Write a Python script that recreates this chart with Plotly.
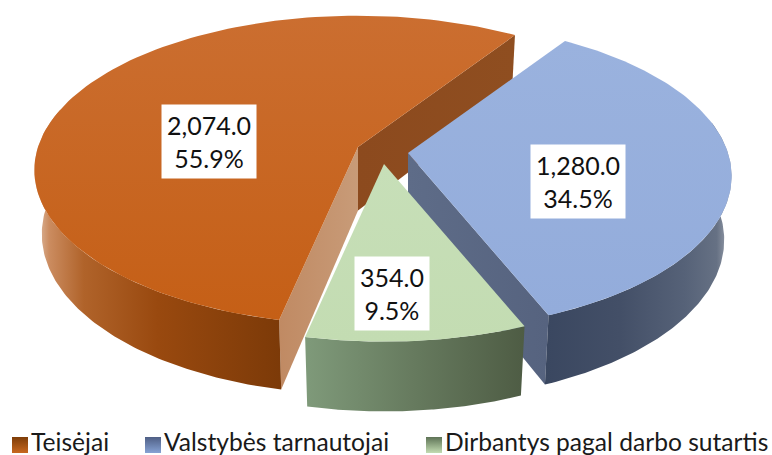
import numpy as np
import plotly.graph_objects as go

names = ["Teisėjai", "Valstybės tarnautojai", "Dirbantys pagal darbo sutartis"]
values = [2074.0, 1280.0, 354.0]
percent_labels = ["55.9%", "34.5%", "9.5%"]

W, H = 772, 455
A, B, K, DEPTH, SHRINK = 320, 151, 0.15, 65, 0.023
TIPS = [(358, 147), (408, 153), (384, 164)]
START_DEG = 56.5  # orange/blue boundary

sweep = [v / sum(values) * 360 for v in values]
spans = [
    (START_DEG, START_DEG + sweep[0]),
    (START_DEG - sweep[1], START_DEG),
    (START_DEG - sweep[1] - sweep[2], START_DEG - sweep[1]),
]


def project(tip, deg, r=1.0, h=0.0):
    t = np.radians(deg)
    u, v = r * np.cos(t), r * np.sin(t)
    w = 1 + K * v + SHRINK * h
    return tip[0] + A * u / w, tip[1] - B * v / w + DEPTH * h / w


def arc(tip, a, b, h=0.0, n=120):
    d = np.linspace(a, b, n)
    return project(tip, d, 1.0, h)


def radial_face(tip, deg):
    xs, ys = zip(project(tip, deg, 0, 0), project(tip, deg, 1, 0),
                 project(tip, deg, 1, 1), project(tip, deg, 0, 1))
    return list(xs), list(ys)


def wall(tip, a, b):
    x1, y1 = arc(tip, a, b)
    x2, y2 = arc(tip, b, a, 1)
    return np.r_[x1, x2], np.r_[y1, y2]


def top(tip, a, b):
    x, y = arc(tip, a, b)
    return np.r_[tip[0], x], np.r_[tip[1], y]


fig = go.Figure()


def poly(xy, kind, stops):
    fig.add_trace(go.Scatter(
        x=xy[0], y=xy[1], mode="lines", fill="toself", line=dict(width=0),
        fillgradient=dict(type=kind, colorscale=stops),
        hoverinfo="skip", showlegend=False))


def scale(*cols):
    return [[i / (len(cols) - 1), c] for i, c in enumerate(cols)]


# Teisėjai
poly(radial_face(TIPS[0], spans[0][0]), "horizontal", scale("#8C4A1E", "#8F4E20"))
poly(radial_face(TIPS[0], spans[0][1]), "horizontal", scale("#C08A63", "#C89B78"))
poly(wall(TIPS[0], 165, spans[0][1]), "horizontal",
     [[0, "#E2C4AE"], [0.06, "#CB8C60"], [0.2, "#B0632A"], [0.5, "#99490F"], [1, "#7C3A08"]])
poly(top(TIPS[0], *spans[0]), "vertical", scale("#C55F16", "#CB6E30"))
# Valstybės tarnautojai
poly(radial_face(TIPS[1], spans[1][0]), "horizontal", scale("#5E6C88", "#56637F"))
poly(wall(TIPS[1], spans[1][0], 12), "horizontal",
     [[0, "#3A4760"], [0.4, "#434F67"], [0.75, "#566278"], [0.92, "#667184"], [1, "#A3A9B4"]])
poly(top(TIPS[1], *spans[1]), "vertical", scale("#93ACDB", "#9AB2DE"))
# Dirbantys pagal darbo sutartis
poly(wall(TIPS[2], *spans[2]), "horizontal", scale("#7F9A7A", "#667A5E", "#4E5C44"))
poly(top(TIPS[2], *spans[2]), "vertical", scale("#C3DCB2", "#C7DFB8"))

legend_colors = [("#7E3D08", "#C8681F"), ("#4F5F85", "#86A2D4"), ("#5E7356", "#C3DCB2")]
legend_x = [20, 153, 434]
LEGEND_Y = 445
for name, (c0, c1), lx in zip(names, legend_colors, legend_x):
    fig.add_trace(go.Scatter(
        x=[lx], y=[LEGEND_Y], mode="markers+text", name=name, text=[name],
        textposition="middle right", cliponaxis=False, showlegend=False,
        textfont=dict(family="Lato", size=24.6, color="#1A1A1A"),
        marker=dict(symbol="square", size=16, color=c0,
                    gradient=dict(type="vertical", color=c1), line=dict(width=0))))

label_pos = [(209, 141), (578, 181), (391.5, 293)]
for v, p, (x, y) in zip(values, percent_labels, label_pos):
    fig.add_annotation(
        x=x, y=y, xref="x", yref="y", showarrow=False,
        text=f"{v:,.1f}<br>{p}", bgcolor="#FFFFFF", borderpad=5, align="center",
        font=dict(family="Lato", size=25, color="#111111"))

fig.update_layout(
    width=W, height=H, margin=dict(l=0, r=0, t=0, b=0, autoexpand=False),
    paper_bgcolor="#FFFFFF", plot_bgcolor="#FFFFFF", showlegend=False,
    xaxis=dict(range=[0, W], visible=False),
    yaxis=dict(range=[H, 0], visible=False),
)
fig.write_html("out.html", config={"displayModeBar": False},
               post_script="document.body.style.margin='0';document.body.style.overflow='hidden';")
